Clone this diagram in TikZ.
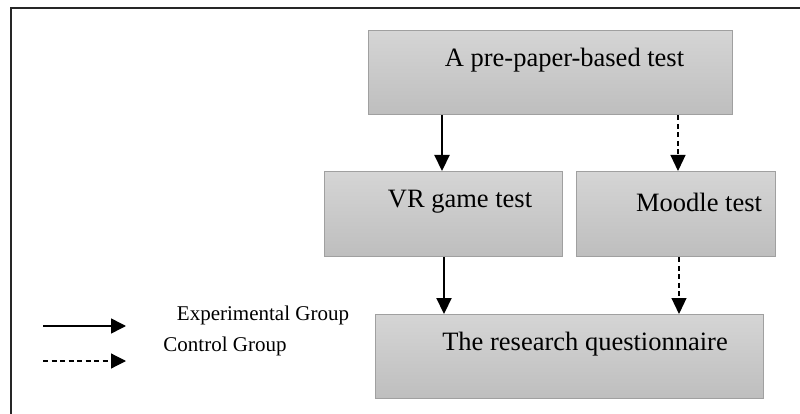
\documentclass[tikz,border=0pt]{standalone}
\usepackage{fontspec}
\setmainfont{Liberation Serif}
\usetikzlibrary{arrows.meta}
\definecolor{boxtop}{HTML}{D5D5D5}
\definecolor{boxbot}{HTML}{BEBEBE}
\definecolor{boxline}{HTML}{A0A0A0}
\tikzset{
  stage/.style={draw=boxline, line width=1.3pt, top color=boxtop, bottom color=boxbot,
    rectangle, inner sep=0pt, anchor=north west},
  stagetext/.style={font=\fontsize{26.5}{30}\selectfont, inner sep=0pt},
  legendtext/.style={font=\fontsize{21}{24}\selectfont, inner sep=0pt},
  expflow/.style={line width=2.2pt, -{Triangle[length=16pt,width=15pt]}},
  ctrlflow/.style={line width=1.2pt, dash pattern=on 5pt off 3.5pt,
    -{Triangle[length=16pt,width=15pt]}},
  keyexp/.style={line width=1.6pt, -{Triangle[length=15pt,width=15pt]}},
  keyctrl/.style={line width=1.2pt, dash pattern=on 5pt off 3.5pt,
    -{Triangle[length=15pt,width=15pt]}}
}
\begin{document}
\begin{tikzpicture}[x=1pt, y=-1pt]
\useasboundingbox (0,0) rectangle (800,414);
% outer frame, running off the right and bottom edges
\draw[line width=1.8pt, black!85] (11,420) -- (11,8) -- (806,8);

% stages
\node[stage, minimum width=364pt, minimum height=84pt] (pre) at (368,30) {};
\node[stage, minimum width=238pt, minimum height=85pt] (vr) at (324,171) {};
\node[stage, minimum width=199pt, minimum height=85pt] (moodle) at (576,171) {};
\node[stage, minimum width=388pt, minimum height=84pt] (quest) at (375,314) {};

\node[stagetext] (pretext) at (564.5,60) {A pre-paper-based test};
\node[stagetext] (vrtext) at (460,202) {VR game test};
\node[stagetext] (moodletext) at (699,202) {Moodle test};
\node[stagetext] (questtext) at (585,344) {The research questionnaire};

% flows
\draw[expflow] (pre.south -| 442,0) -- (vr.north -| 442,0);
\draw[ctrlflow] (pre.south -| 678,0) -- (moodle.north -| 678,0);
\draw[expflow] (vr.south -| 444,0) -- (quest.north -| 444,0);
\draw[ctrlflow] (moodle.south -| 679,0) -- (quest.north -| 679,0);

% key
\coordinate (k1a) at (43,326);
\coordinate (k1b) at (126,326);
\coordinate (k2a) at (43,361);
\coordinate (k2b) at (126,361);
\draw[keyexp] (k1a) -- (k1b);
\draw[keyctrl] (k2a) -- (k2b);
\node[legendtext] (exptext) at (263,315) {Experimental Group};
\node[legendtext] (ctrltext) at (225,346) {Control Group};
\end{tikzpicture}
\end{document}
